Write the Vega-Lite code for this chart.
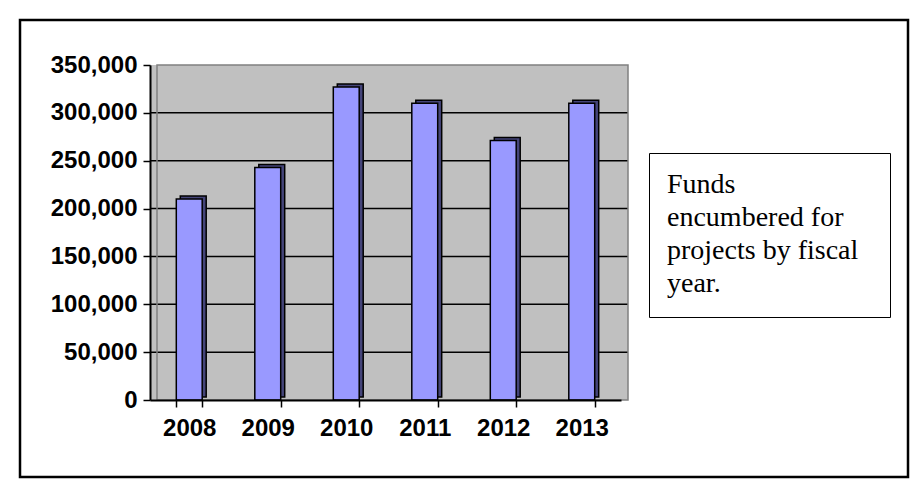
{
  "$schema": "https://vega.github.io/schema/vega-lite/v6.json",
  "description": "Funds encumbered for projects by fiscal year, 3-D style columns on a gray wall.",
  "width": 888,
  "height": 457,
  "autosize": "none",
  "padding": {"left": 20, "top": 20, "right": 4, "bottom": 10},
  "background": "white",
  "data": {
    "values": [
      {"year": "2008", "funds": 210000},
      {"year": "2009", "funds": 243000},
      {"year": "2010", "funds": 327000},
      {"year": "2011", "funds": 310000},
      {"year": "2012", "funds": 271000},
      {"year": "2013", "funds": 310000}
    ]
  },
  "resolve": {"scale": {"x": "independent"}},
  "layer": [
    {
      "data": {"values": [{"note": "Funds encumbered for projects by fiscal year."}]},
      "mark": {"type": "rect", "strokeWidth": 0},
      "encoding": {
        "x": {"datum": 0, "type": "quantitative", "scale": {"domain": [0, 1], "range": [130, 608]}, "axis": null},
        "x2": {"datum": 1},
        "y": {"datum": 0, "type": "quantitative"},
        "y2": {"datum": 350000},
        "fill": {
          "field": "note",
          "type": "nominal",
          "scale": {"range": ["#c0c0c0"]},
          "legend": {
            "orient": "none",
            "legendX": 629,
            "legendY": 133,
            "title": ["Funds", "encumbered for", "projects by fiscal", "year."],
            "titleFont": "Liberation Serif",
            "titleFontSize": 28,
            "titleFontWeight": "normal",
            "titleColor": "black",
            "titleLineHeight": 33,
            "titleLimit": 400,
            "titlePadding": 0,
            "labelExpr": "''",
            "labelFontSize": 1,
            "labelOffset": 204,
            "symbolSize": 0,
            "symbolOpacity": 0,
            "symbolStrokeWidth": 0,
            "strokeColor": "black",
            "fillColor": "white",
            "padding": 18
          }
        }
      }
    },
    {
      "data": {"values": [{"v": 50000}, {"v": 100000}, {"v": 150000}, {"v": 200000}, {"v": 250000}, {"v": 300000}]},
      "mark": {"type": "rule", "color": "black", "strokeWidth": 1.5},
      "encoding": {
        "x": {"datum": 0, "type": "quantitative", "scale": {"domain": [0, 1], "range": [130, 608]}, "axis": null},
        "x2": {"datum": 1},
        "y": {"field": "v", "type": "quantitative"}
      }
    },
    {
      "data": {"values": [{}]},
      "mark": {"type": "rect", "fillOpacity": 0, "stroke": "#808080", "strokeWidth": 1.5, "xOffset": 7},
      "encoding": {
        "x": {"datum": 0, "type": "quantitative", "scale": {"domain": [0, 1], "range": [130, 608]}, "axis": null},
        "x2": {"datum": 1},
        "y": {"datum": 0, "type": "quantitative"},
        "y2": {"datum": 350000}
      }
    },
    {
      "mark": {"type": "bar", "fill": "#45457a", "stroke": "black", "strokeWidth": 1.5, "xOffset": 4, "yOffset": -3},
      "encoding": {
        "x": {"field": "year", "type": "nominal", "scale": {"range": [130, 601], "paddingInner": 0.67, "paddingOuter": 0.335}, "axis": null},
        "y": {"field": "funds", "type": "quantitative"}
      }
    },
    {
      "mark": {"type": "bar", "fill": "#9999ff", "stroke": "black", "strokeWidth": 1.5},
      "encoding": {
        "x": {
          "field": "year",
          "type": "nominal",
          "scale": {"range": [130, 601], "paddingInner": 0.67, "paddingOuter": 0.335},
          "axis": {
            "title": null,
            "offset": -77,
            "labelAngle": 0,
            "labelFont": "Liberation Sans",
            "labelFontWeight": "bold",
            "labelFontSize": 24,
            "labelColor": "black",
            "labelPadding": 9,
            "tickBand": "extent",
            "tickSize": 7,
            "tickColor": "black",
            "tickWidth": 1.5,
            "domainColor": "black",
            "domainWidth": 2,
            "grid": false,
            "zindex": 2
          }
        },
        "y": {
          "field": "funds",
          "type": "quantitative",
          "scale": {"domain": [0, 350000], "range": [380, 45], "nice": false, "zero": true},
          "axis": {
            "title": null,
            "offset": -130,
            "values": [0, 50000, 100000, 150000, 200000, 250000, 300000, 350000],
            "format": ",d",
            "labelFont": "Liberation Sans",
            "labelFontWeight": "bold",
            "labelFontSize": 24,
            "labelColor": "black",
            "labelPadding": 6,
            "tickSize": 7,
            "tickColor": "black",
            "tickWidth": 1.5,
            "domainColor": "black",
            "domainWidth": 2,
            "grid": false,
            "zindex": 2
          }
        }
      }
    }
  ],
  "config": {
    "view": {"stroke": "black", "strokeWidth": 2.5, "fill": "white"}
  }
}
